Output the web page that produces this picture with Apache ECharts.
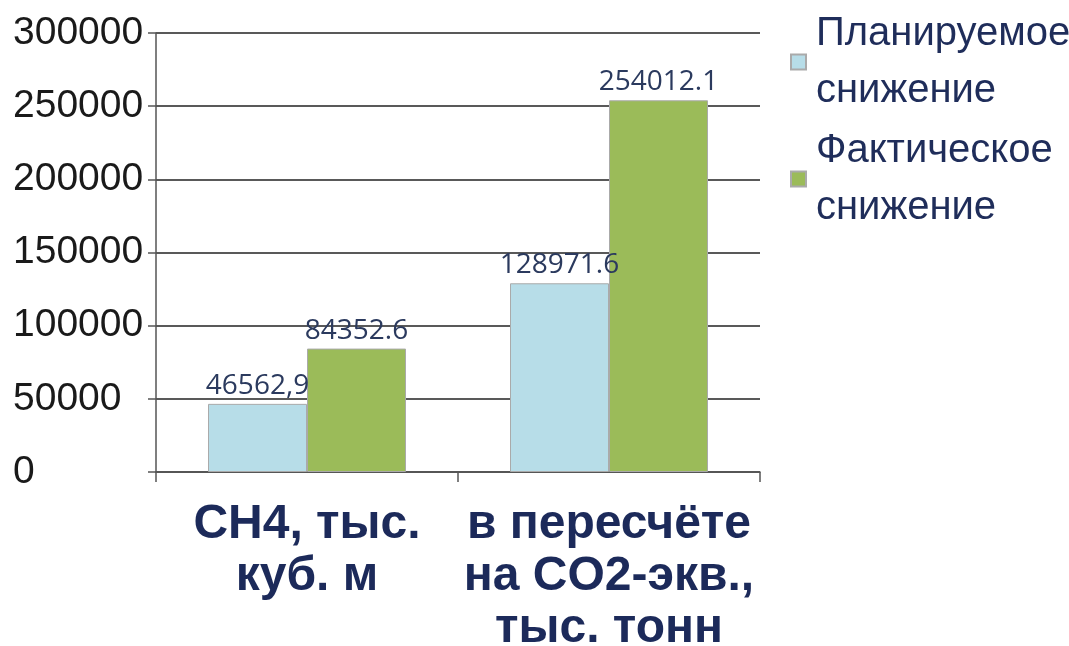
<!DOCTYPE html>
<html><head><meta charset="utf-8">
<script src="https://cdn.jsdelivr.net/npm/echarts@6/dist/echarts.min.js"></script>
<style>html,body{margin:0;padding:0;background:#fff}#c{width:1069px;height:646px}</style>
</head><body><div id="c"></div>
<script>
var categories = ["CH4, тыс.\nкуб. м", "в пересчёте\nна CO2-экв.,\nтыс. тонн"];
var seriesNames = ["Планируемое\nснижение", "Фактическое\nснижение"];
var planned = [46562.9, 128971.6];
var actual = [84352.6, 254012.1];
var plannedLabels = ["46562,9", "128971.6"];
var actualLabels = ["84352.6", "254012.1"];
var yTicks = [0, 50000, 100000, 150000, 200000, 250000, 300000];

var chart = echarts.init(document.getElementById('c'));
var labelStyle = {show:true, position:'top', distance:4, color:'#2b3a5e', fontSize:28, fontFamily:'Open Sans'};
chart.setOption({
  animation:false,
  grid:{left:156, right:309, top:33, bottom:174, containLabel:false, outerBoundsMode:'none'},
  legend:{
    orient:'vertical', left:785, top:0, itemWidth:15, itemHeight:15, itemGap:3,
    icon:'rect',
    textStyle:{fontSize:40, lineHeight:57, color:'#1f2d5a', fontFamily:'Liberation Sans, Arial', padding:[0,0,0,5]},
    data:seriesNames
  },
  xAxis:{
    type:'category', data:categories,
    axisLine:{lineStyle:{color:'#555', width:1.5}},
    axisTick:{show:true, length:10, lineStyle:{color:'#555', width:1.5}},
    axisLabel:{interval:0, margin:27, color:'#1c2a5a', fontSize:48, fontWeight:'bold', lineHeight:52, fontFamily:'Liberation Sans, Arial'}
  },
  yAxis:{
    type:'value', min:yTicks[0], max:yTicks[yTicks.length-1], interval:50000,
    axisLine:{show:true, lineStyle:{color:'#555', width:1.5}},
    axisTick:{show:true, length:8, lineStyle:{color:'#555', width:1.5}},
    splitLine:{lineStyle:{color:'#222', width:1.5}},
    axisLabel:{margin:143, align:'left', color:'#1a1a1a', fontSize:39, fontFamily:'Liberation Sans, Arial',
      formatter:function(v){return String(v);}}
  },
  series:[
    {name:seriesNames[0], type:'bar', data:planned, barWidth:99, barGap:'0%',
     itemStyle:{color:'#b7dde8', borderColor:'#aaa', borderWidth:1},
     label:Object.assign({}, labelStyle, {formatter:function(p){return plannedLabels[p.dataIndex];}})},
    {name:seriesNames[1], type:'bar', data:actual, barWidth:99, barGap:'0%',
     itemStyle:{color:'#9bbb59', borderColor:'#aaa', borderWidth:1},
     label:Object.assign({}, labelStyle, {formatter:function(p){return actualLabels[p.dataIndex];}})}
  ]
});
</script></body></html>
